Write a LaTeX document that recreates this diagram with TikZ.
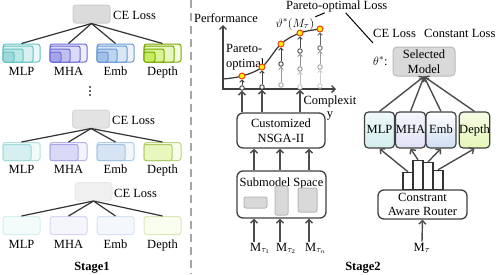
\documentclass[tikz,border=0pt]{standalone}
\usepackage{fontspec}
\setmainfont{Liberation Serif}
\usetikzlibrary{arrows.meta}
\definecolor{mlpc}{HTML}{62C3C4}
\definecolor{mhac}{HTML}{6C6CDA}
\definecolor{embc}{HTML}{6699D6}
\definecolor{depc}{HTML}{A2E000}
\definecolor{dotred}{HTML}{F0401E}

\begin{document}
\begin{tikzpicture}[x=1pt, y=-1pt, font=\fontsize{12.5}{14.5}\selectfont,
    >={Straight Barb[length=3.5pt,width=7pt]},
    lossbox/.style={draw=gray!40, fill=gray!28, line width=1pt, rounded corners=3pt,
      minimum width=37pt, minimum height=18pt},
    blk/.style={rounded corners=2.5pt, line width=1pt, minimum width=37pt, minimum height=18pt},
    nest/.style={rounded corners=2pt, line width=1pt},
    link/.style={line width=1.2pt, black!80},
    flow/.style={->, line width=1.4pt, black!70},
    chain/.style={-{Straight Barb[length=2.2pt,width=4.5pt]}, line width=0.9pt},
    ring/.style={circle, draw, fill=white, line width=0.9pt, inner sep=0pt, minimum size=4.5pt},
    pdot/.style={circle, fill=yellow, draw=dotred, line width=1pt, inner sep=0pt, minimum size=6pt},
    procbox/.style={draw=black!75, line width=1.3pt, rounded corners=6pt, fill=white, align=center},
    rblk/.style={draw=black!75, line width=1.2pt, rounded corners=4pt, minimum width=30pt,
      minimum height=36pt, inner sep=0pt, text height=8.5pt, text depth=2.5pt},
    bar/.style={draw=black!80, line width=1.2pt, fill=white, minimum width=10pt, inner sep=0pt, anchor=south},
    piece/.style={draw=gray!55, fill=gray!30, line width=1pt, rounded corners=2pt},
    sep/.style={dash pattern=on 8pt off 5pt, line width=1.5pt, gray!70},
    txt/.style={anchor=base, inner sep=1pt}]
  \useasboundingbox (0,0) rectangle (498,274);

  % ---------- Stage 1 ----------
  \node[lossbox] (loss-a) at (91.5,14) {};
  \node[txt, anchor=base west] (ce-a) at (112,19) {CE Loss};
  \foreach \nm/\lb/\xx/\cc/\bb in {mlp/MLP/3/mlpc/mlpc, mha/MHA/50/mhac/mhac, emb/Emb/97/embc/embc, dep/Depth/144/depc/depc!75!black} {
    \node[blk, draw=\bb, fill=\cc!12] (\nm-a) at (\xx+18.5,53) {};
    \draw[nest, draw=\bb, fill=\cc!25] (\xx,62) rectangle ++(30,-16);
    \draw[nest, draw=\bb, fill=\cc!42] (\xx,62) rectangle ++(20,-13);
    \draw[nest, draw=\bb, fill=\cc!62] (\xx,62) rectangle ++(11,-10);
    \node[txt] (\nm-at) at (\xx+18.5,75) {\lb};
    \draw[link] (loss-a.south) -- (\nm-a.north);
  }
  % vertical dots
  \foreach \yy in {87,91,95}
    \fill[black!80] (90,\yy) circle (1.1);

  \node[lossbox, fill=gray!22, draw=gray!32] (loss-b) at (91,119) {};
  \node[txt, anchor=base west] (ce-b) at (111,124.5) {CE Loss};
  \foreach \nm/\lb/\xx/\cc/\bb in {mlp/MLP/3/mlpc/mlpc, mha/MHA/50/mhac/mhac, emb/Emb/97/embc/embc, dep/Depth/144/depc/depc!75!black} {
    \node[blk, draw=\bb!50, fill=\cc!8] (\nm-b) at (\xx+18.5,151.5) {};
    \draw[nest, draw=\bb!60, fill=\cc!26] (\xx,160.5) rectangle ++(28,-16);
    \node[txt] (\nm-bt) at (\xx+18.5,173) {\lb};
    \draw[link] (loss-b.south) -- (\nm-b.north);
  }

  \node[lossbox, fill=gray!12, draw=gray!18] (loss-c) at (93.5,191.5) {};
  \node[txt, anchor=base west] (ce-c) at (113,197) {CE Loss};
  \foreach \nm/\lb/\xx/\cc/\bb in {mlp/MLP/3/mlpc/mlpc, mha/MHA/50/mhac/mhac, emb/Emb/97/embc/embc, dep/Depth/144/depc/depc!75!black} {
    \node[blk, draw=\bb!28, fill=\cc!7] (\nm-c) at (\xx+18.5,225.5) {};
    \node[txt] (\nm-ct) at (\xx+18.5,248) {\lb};
    \draw[link] (loss-c.south) -- (\nm-c.north);
  }
  \node[txt] (stage1) at (92,270) {\textbf{Stage1}};

  \draw[sep] (191,0) -- (191,274);

  % ---------- Stage 2: search ----------
  \coordinate (ytip) at (223,25);
  \coordinate (xtip) at (336,89);
  \draw[<->, line width=1.3pt, black!75] (ytip) |- (xtip);
  \node[txt] (perf) at (226,22) {Performance};
  \node[align=center, anchor=north, inner sep=0pt, font=\fontsize{12.5}{13}\selectfont] (cplx) at (330,95.5) {Complexit\\y};
  \draw[line width=1.2pt, black!80] plot[smooth, tension=0.6] coordinates {(223,79) (242,76) (262,67) (281,44) (300,33) (320,29) (323,28.6)};
  \node[align=left, anchor=north west, inner sep=0pt] (po) at (226,44.5) {Pareto-\\optimal};

  \foreach \nm/\xx/\yy/\sh in {c1a/242/88/75, c2a/262/87/75, c3a/281/64/75, c3b/281/85/35,
      c4a/300/51/70, c4b/300/69/45, c4c/300/87/22, c5a/320/48/60, c5b/320/67/38, c5c/320/86/20}
    \node[ring, draw=black!\sh] (\nm) at (\xx,\yy) {};
  \foreach \i/\xx/\yy in {1/242/76, 2/262/67, 3/281/44, 4/300/33, 5/320/29}
    \node[pdot] (p\i) at (\xx,\yy) {};
  \foreach \aa/\bb/\sh in {c1a/p1/75, c2a/p2/75, c3a/p3/75, c3b/c3a/40, c4a/p4/70, c4b/c4a/45,
      c4c/c4b/25, c5a/p5/60, c5b/c5a/38, c5c/c5b/20}
    \draw[chain, black!\sh] (\aa) -- (\bb);

  \node[txt, anchor=base west] (pol) at (285,9) {Pareto-optimal Loss};
  \node[txt] (tval) at (295,27) {$\vartheta^*(M_\tau)$};
  \draw[line width=1pt] ([xshift=-12pt]pol.south) -- (tval.north east);
  \coordinate (thk) at (373,43);
  \draw[line width=1pt] ([xshift=9pt]pol.south) -- (thk);

  \node[procbox, minimum width=88pt, minimum height=35pt] (nsga) at (281,130.5) {Customized\\NSGA-II};
  \foreach \cc in {c1a,c2a,c4c}
    \draw[flow] (nsga.north -| \cc) -- (\cc);

  \node[procbox, minimum width=89pt, minimum height=47pt] (sub) at (281.5,194.5) {};
  \node[txt] (subt) at (281.5,186) {Submodel Space};
  \draw[piece] (244,197) rectangle (267,208);
  \draw[piece] (275,186) rectangle (288,215);
  \draw[piece] (298,188) rectangle (317,212);

  \node[txt, anchor=base west] (m1) at (249,251) {M$_{\tau_1}$};
  \node[txt, anchor=base west] (m2) at (275,251) {M$_{\tau_2}$};
  \node[txt, anchor=base west] (mn) at (304,251) {M$_{\tau_n}$};
  \foreach \mm in {m1,m2,mn} {
    \draw[flow] ([xshift=5pt]\mm.north west) -- ([xshift=5pt]\mm.north west |- sub.south);
    \draw[flow] ([xshift=5pt]\mm.north west |- sub.north) -- ([xshift=5pt]\mm.north west |- nsga.south);
  }
  \node[txt] (stage2) at (363,270) {\textbf{Stage2}};

  % ---------- Stage 2: routing ----------
  \node[txt, anchor=base west] (ce-r) at (372,37) {CE Loss};
  \node[txt, anchor=base west] (cst) at (423,37) {Constant Loss};
  \node[txt, anchor=base west] (theta) at (372,65) {$\theta^*$:};
  \node[draw=gray!55, fill=gray!30, line width=1pt, rounded corners=4pt, minimum width=62pt,
    minimum height=29pt, align=center, inner sep=1pt] (sel) at (424,61.5) {Selected\\Model};

  \node[rblk, top color=mlpc!10, bottom color=mlpc!28] (mlp-r) at (379.5,130) {MLP};
  \node[rblk, top color=mhac!6, bottom color=mhac!20] (mha-r) at (410.5,130) {MHA};
  \node[rblk, top color=white, middle color=white, bottom color=embc!32] (emb-r) at (441,130) {Emb};
  \node[rblk, top color=depc!10, bottom color=depc!28] (dep-r) at (474.5,130) {Depth};
  \foreach \nm in {mlp,mha,emb,dep}
    \draw[flow] (\nm-r.north) -- (sel.south);

  \node[procbox, minimum width=89pt, minimum height=29pt, font=\fontsize{12.5}{13.5}\selectfont] (router) at (422.5,204.5) {Constrant\\Aware Router};
  \node[bar, minimum height=17pt] (bar1) at (408,190) {};
  \node[bar, minimum height=29pt] (bar2) at (418,190) {};
  \node[bar, minimum height=27pt] (bar3) at (428,190) {};
  \node[bar, minimum height=19pt] (bar4) at (438,190) {};
  \draw[flow] (bar1.north) -- (mlp-r.south);
  \draw[flow] (bar2.north) -- (mha-r.south);
  \draw[flow] (bar3.north) -- (emb-r.south);
  \draw[flow] (bar4.north) -- (dep-r.south);

  \node[txt] (mt) at (422,251) {M$_\tau$};
  \draw[flow] (mt.north) -- (router.south);
\end{tikzpicture}
\end{document}
